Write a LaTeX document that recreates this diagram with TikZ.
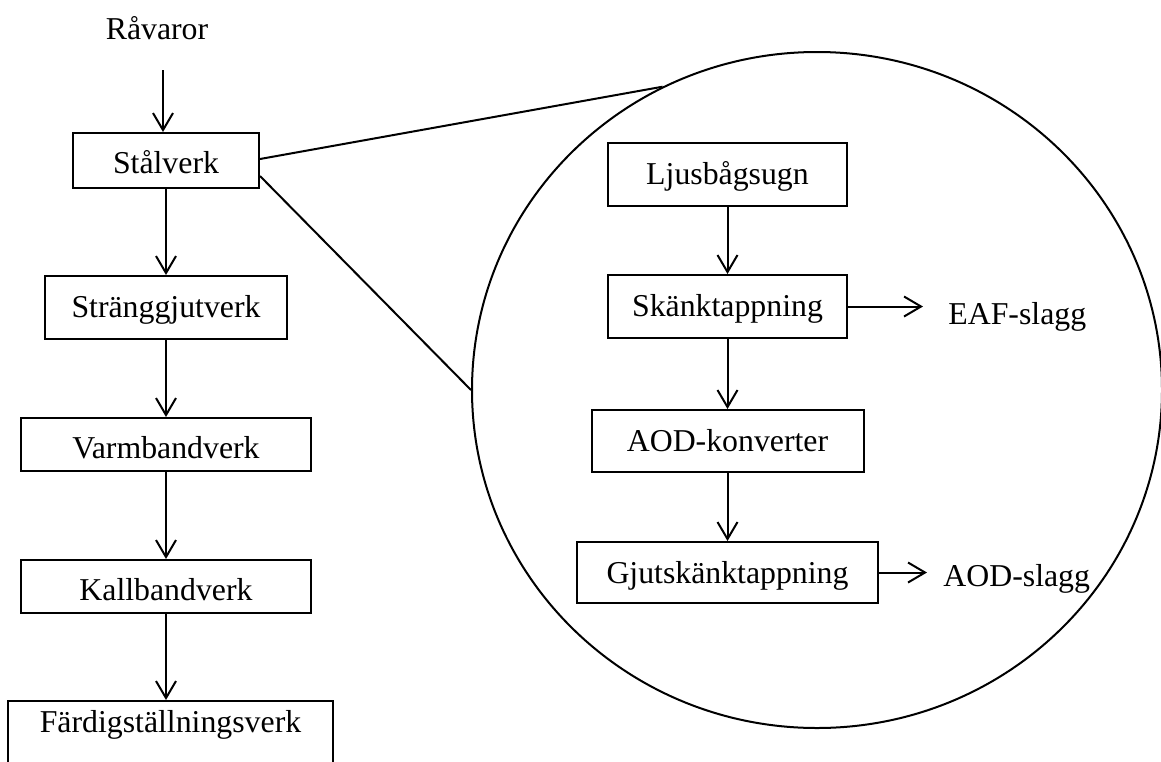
\documentclass[tikz,border=0pt]{standalone}
\usepackage{fontspec}
\setmainfont{Liberation Serif}
\usetikzlibrary{arrows.meta,shapes.geometric}
\begin{document}
\begin{tikzpicture}[x=0.5pt,y=-0.5pt,
  every node/.style={font=\fontsize{15.9pt}{19pt}\selectfont},
  bx/.style={draw, line width=1pt, inner sep=0pt, text depth=0pt, minimum width=#1},
  arr/.style={line width=1pt, -{Straight Barb[length=8.5pt,width=10pt]}},
  ln/.style={line width=1pt},
  lab/.style={inner sep=0pt, anchor=base west}]
\useasboundingbox (0,0) rectangle (1161,761);
% left column
\node[anchor=base, inner sep=0pt] (rav) at (157,39) {Råvaror};
\node[bx=93pt, minimum height=27.5pt, text height=12.5pt] (sta) at (166,160.5) {Stålverk};
\node[bx=121pt, minimum height=31.5pt, text height=9.5pt] (str) at (166,307.5) {Stränggjutverk};
\node[bx=145pt, minimum height=26.5pt, text height=13.5pt] (var) at (166,444.5) {Varmbandverk};
\node[bx=145pt, minimum height=26.5pt, text height=13.5pt] (kal) at (166,586.5) {Kallbandverk};
\node[bx=162.5pt, minimum height=33pt, text height=0pt, text depth=2pt] (far) at (170.5,734) {Färdigställningsverk};
\coordinate (ravend) at (163,70);
\draw[arr] (ravend) -- (ravend |- sta.north);
\draw[arr] (sta) -- (str);
\draw[arr] (str) -- (var);
\draw[arr] (var) -- (kal);
\draw[arr] (kal.south) -- (kal.south |- far.north);
% magnifier
\node[draw, ellipse, line width=1pt, minimum width=345pt, minimum height=338pt, inner sep=0pt] (zm) at (817,390) {};
\draw[ln] ([yshift=0.75pt]sta.east) -- (zm.117.6);
\draw[ln] ([yshift=-7.75pt]sta.east) -- (zm.180);
% right column
\node[bx=119.5pt, minimum height=31.5pt, text height=9.5pt] (lju) at (727.5,174.5) {Ljusbågsugn};
\node[bx=119.5pt, minimum height=31.5pt, text height=9.5pt] (ska) at (727.5,306.5) {Skänktappning};
\node[bx=136pt, minimum height=31pt, text height=10pt] (aod) at (727.5,441) {AOD-konverter};
\node[bx=150.5pt, minimum height=30.5pt, text height=10.5pt] (gju) at (727.5,572.5) {Gjutskänktappning};
\draw[arr] (lju) -- (ska);
\draw[arr] (ska) -- (aod);
\draw[arr] (aod) -- (gju);
\node[lab] (eaf) at (948,324) {EAF-slagg};
\node[lab] (aods) at (943,586) {AOD-slagg};
\draw[arr, shorten >=12.5pt] (ska.east) -- (ska.east -| eaf.west);
\draw[arr, shorten >=8pt] (gju.east) -- (gju.east -| aods.west);
\end{tikzpicture}
\end{document}
